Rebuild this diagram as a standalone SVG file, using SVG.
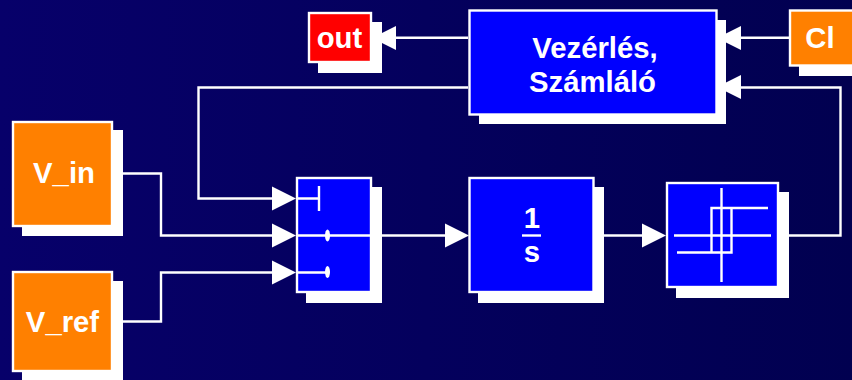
<svg xmlns="http://www.w3.org/2000/svg" width="852" height="380" viewBox="0 0 852 380">
<style>
.shadow{fill:#fff}
.blue{fill:#0000ff;stroke:#fff;stroke-width:2.400}
.orange{fill:#ff8000;stroke:#fff;stroke-width:2.400}
.red{fill:#ff0000;stroke:#fff;stroke-width:2.400}
.wire{fill:none;stroke:#fff;stroke-width:2.400}
.head{fill:#fff}
text{font-family:"Liberation Sans",Arial,sans-serif;font-weight:bold;font-size:29.300px;fill:#fff;text-anchor:middle}
</style>
<defs><linearGradient id="bg" x1="0" y1="0" x2="1" y2="0"><stop offset="0" stop-color="#07006a"/><stop offset="1" stop-color="#010050"/></linearGradient></defs>
<rect width="852" height="380" fill="url(#bg)"/>
<g id="connectors">
<path class="wire" d="M123 173.500H161V235.500H273"/>
<path class="wire" d="M123 321.500H161V272.500H273"/>
<path class="wire" d="M468 87.500H198.500V198.500H273"/>
<path class="wire" d="M382 235.500H446"/>
<path class="wire" d="M604 235.500H643"/>
<path class="wire" d="M789 235.500H840.500V87.500H740"/>
<path class="wire" d="M789 37.800H740"/>
<path class="wire" d="M468 37.800H395"/>
<polygon class="head" points="272,186.500 296,198.500 272,210.500"/>
<polygon class="head" points="272,223.500 296,235.500 272,247.500"/>
<polygon class="head" points="272,260.500 296,272.500 272,284.500"/>
<polygon class="head" points="445,223.500 469,235.500 445,247.500"/>
<polygon class="head" points="642,223.500 666,235.500 642,247.500"/>
</g>
<g id="out">
<rect class="shadow" x="318" y="22" width="64" height="51"/>
<rect class="red" x="309" y="13" width="62" height="49"/>
<text x="339.500" y="48">out</text>
<polygon class="head" points="396,26 372,38 396,50"/>
</g>
<g id="control">
<rect class="shadow" x="479" y="20" width="247" height="104"/>
<rect class="blue" x="469.500" y="10.500" width="247" height="104"/>
<text x="595" y="58">Vezérlés,</text>
<text x="592.500" y="92">Számláló</text>
<polygon class="head" points="741,26 717,38 741,50"/>
<polygon class="head" points="741,75 717,87 741,99"/>
</g>
<g id="cl">
<rect class="shadow" x="799" y="20" width="60" height="56"/>
<rect class="orange" x="790" y="10.500" width="70" height="55"/>
<text x="820" y="48">Cl</text>
</g>
<g id="v_in">
<rect class="shadow" x="22" y="130" width="101" height="106"/>
<rect class="orange" x="13" y="122" width="99" height="104"/>
<text x="64" y="183">V_in</text>
</g>
<g id="v_ref">
<rect class="shadow" x="22" y="281" width="101" height="101"/>
<rect class="orange" x="13" y="272" width="99" height="99"/>
<text x="62.500" y="332">V_ref</text>
</g>
<g id="switch">
<rect class="shadow" x="306" y="187" width="76" height="116"/>
<rect class="blue" x="297" y="178" width="74" height="114"/>
<path class="wire" d="M297 198.500H319M319 186V211M297 235.500H371M297 272.500H327"/>
<ellipse cx="327.500" cy="235.500" rx="2.500" ry="6" fill="#fff"/>
<ellipse cx="327.500" cy="272" rx="2.500" ry="6" fill="#fff"/>
</g>
<g id="integrator">
<rect class="shadow" x="478" y="187" width="126" height="116"/>
<rect class="blue" x="469.500" y="178" width="124" height="114"/>
<text x="532" y="228">1</text>
<path class="wire" d="M522 235.500H541"/>
<text x="532" y="262">s</text>
</g>
<g id="hysteresis">
<rect class="shadow" x="676" y="192" width="113" height="106"/>
<rect class="blue" x="667" y="183" width="111" height="104"/>
<path class="wire" d="M721.500 188V282M674 235.500H771M768 208H711.500V252.500M677 252.500H731.500V208"/>
</g>
</svg>
